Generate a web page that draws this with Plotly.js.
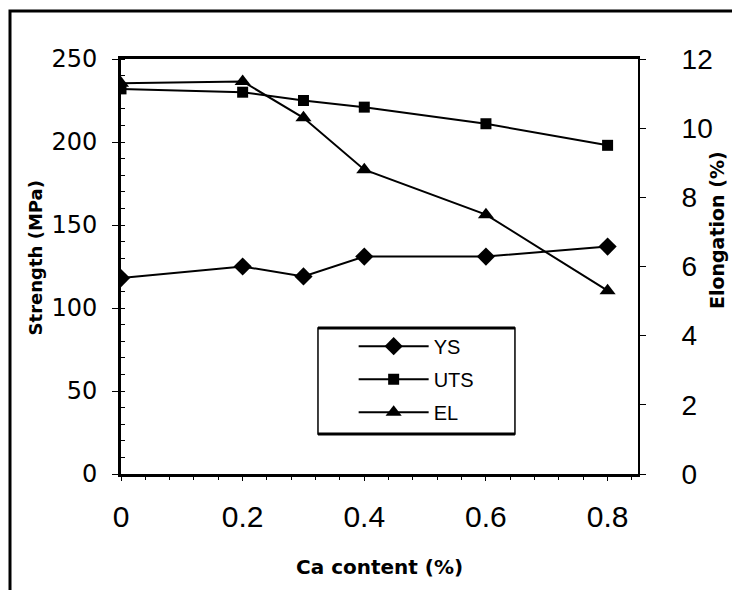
<!DOCTYPE html>
<html>
<head>
<meta charset="utf-8">
<script src="https://cdn.plot.ly/plotly-3.0.1.min.js"></script>
<style>html,body{margin:0;padding:0;background:#fff}#chart{width:732px;height:590px}</style>
</head>
<body>
<div id="chart"></div>
<script>
const caContent = [0, 0.2, 0.3, 0.4, 0.6, 0.8];
const ysValues = [118, 125, 119, 131, 131, 137];
const utsValues = [232, 230, 225, 221, 211, 198];
const elValues = [11.3, 11.35, 10.3, 8.8, 7.5, 5.3];
const seriesNames = ['YS', 'UTS', 'EL'];
const xTitle = 'Ca content (%)';
const yTitle = 'Strength (MPa)';
const y2Title = 'Elongation (%)';

const ARIAL = 'Liberation Sans, Arial, sans-serif';
const DEJA = 'DejaVu Sans, sans-serif';
const traces = [
  {x: caContent, y: ysValues, name: seriesNames[0], legendgroup: 'a', type: 'scatter', mode: 'lines+markers',
   line: {color: '#000', width: 2}, marker: {symbol: 'diamond', size: 14, color: '#000'}},
  {x: caContent, y: utsValues, name: seriesNames[1], legendgroup: 'b', type: 'scatter', mode: 'lines+markers',
   line: {color: '#000', width: 2}, marker: {symbol: 'square', size: 11, color: '#000'}},
  {x: caContent, y: elValues, name: seriesNames[2], legendgroup: 'c', type: 'scatter', mode: 'lines+markers', yaxis: 'y2',
   line: {color: '#000', width: 2}, marker: {symbol: 'triangle-up', size: 14, color: '#000'}}
];

const layout = {
  width: 732, height: 590,
  margin: {l: 121, r: 94, t: 59, b: 116},
  paper_bgcolor: '#fff', plot_bgcolor: '#fff',
  font: {family: ARIAL, color: '#000'},
  showlegend: true,
  legend: {x: 0.45, y: 0.355, xanchor: 'left', yanchor: 'top',
    bgcolor: 'rgba(0,0,0,0)', borderwidth: 0, itemwidth: 70, tracegroupgap: 4,
    font: {family: ARIAL, size: 20, color: '#000'}},
  xaxis: {range: [0, 0.85], dtick: 0.2, tick0: 0, showgrid: false, zeroline: false,
    showline: true, linecolor: '#000', linewidth: 3, mirror: true,
    ticks: 'outside', ticklen: 4, tickcolor: '#000', ticklabelstandoff: 10,
    tickfont: {family: ARIAL, size: 30, color: '#000'},
    minor: {dtick: 0.04, ticks: 'outside', ticklen: 3, tickcolor: '#000', showgrid: false}},
  yaxis: {range: [0, 250], dtick: 50, showgrid: false, zeroline: false,
    showline: true, linecolor: '#000', linewidth: 3,
    ticks: 'outside', ticklen: 6, tickcolor: '#000', ticklabelstandoff: 10,
    tickfont: {family: DEJA, size: 24, color: '#000'},
    minor: {dtick: 10, ticks: 'inside', ticklen: 4, tickcolor: '#000', showgrid: false}},
  yaxis2: {range: [0, 12], dtick: 2, overlaying: 'y', side: 'right', showgrid: false, zeroline: false,
    showline: true, linecolor: '#000', linewidth: 2,
    ticks: 'outside', ticklen: 6, tickcolor: '#000', ticklabelstandoff: 30,
    tickfont: {family: ARIAL, size: 28, color: '#000'}},
  annotations: [
    {text: '<b>' + xTitle + '</b>', xref: 'paper', yref: 'paper', x: 0.50, y: -0.224, showarrow: false,
     xanchor: 'center', yanchor: 'middle', font: {family: DEJA, size: 20, color: '#000'}},
    {text: '<b>' + yTitle + '</b>', xref: 'paper', yref: 'paper', x: -0.166, y: 0.52, showarrow: false, textangle: -90,
     xanchor: 'center', yanchor: 'middle', font: {family: DEJA, size: 18, color: '#000'}},
    {text: '<b>' + y2Title + '</b>', xref: 'paper', yref: 'paper', x: 1.153, y: 0.588, showarrow: false, textangle: -90,
     xanchor: 'center', yanchor: 'middle', font: {family: DEJA, size: 19, color: '#000'}}
  ],
  shapes: [
    {type: 'rect', xref: 'paper', yref: 'paper', x0: -0.2147, x1: 1.3, y0: -0.5, y1: 1.1157,
     line: {color: '#000', width: 3}, fillcolor: 'rgba(0,0,0,0)', layer: 'below'},
    {type: 'rect', xref: 'paper', yref: 'paper', x0: 0.381, x1: 0.762, y0: 0.0963, y1: 0.3518,
     line: {color: '#000', width: 1.5}, fillcolor: '#fff', layer: 'below'},
    {type: 'line', xref: 'paper', yref: 'paper', x0: 0.381, x1: 0.762, y0: 0.3518, y1: 0.3518,
     line: {color: '#000', width: 3}, layer: 'below'},
    {type: 'line', xref: 'paper', yref: 'paper', x0: 0.381, x1: 0.762, y0: 0.0963, y1: 0.0963,
     line: {color: '#000', width: 3}, layer: 'below'}
  ]
};

Plotly.newPlot('chart', traces, layout, {displayModeBar: false, staticPlot: true});
</script>
</body>
</html>
